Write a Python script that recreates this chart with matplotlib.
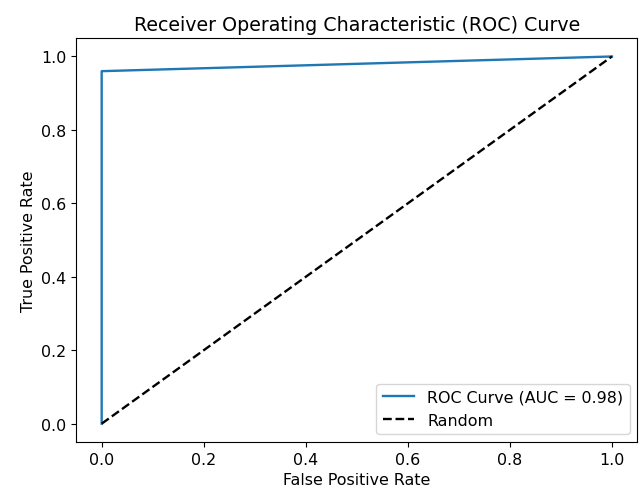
import matplotlib
matplotlib.use("Agg")
import matplotlib.pyplot as plt

# ROC points
fpr = [0.0, 0.0, 1.0]
tpr = [0.0, 0.96, 1.0]
auc_value = 0.98
rand_x = [0, 1]
rand_y = [0, 1]

plt.rcParams.update({
    "font.size": 11.4,
    "axes.titlesize": 13.7,
    "axes.labelsize": 11.4,
    "xtick.labelsize": 11.4,
    "ytick.labelsize": 11.4,
    "legend.fontsize": 11.4,
})

fig = plt.figure(figsize=(6.4, 4.89), dpi=100)
ax = fig.add_axes([0.119, 0.094, 0.877, 0.826])

ax.plot(fpr, tpr, color="#1f77b4", lw=1.7, label=f"ROC Curve (AUC = {auc_value:.2f})")
ax.plot(rand_x, rand_y, "k--", lw=1.7, label="Random")

ax.set_xlabel("False Positive Rate")
ax.set_ylabel("True Positive Rate")
ax.set_title("Receiver Operating Characteristic (ROC) Curve")
ax.legend(loc="lower right")

fig.savefig("out.png", dpi=100)
